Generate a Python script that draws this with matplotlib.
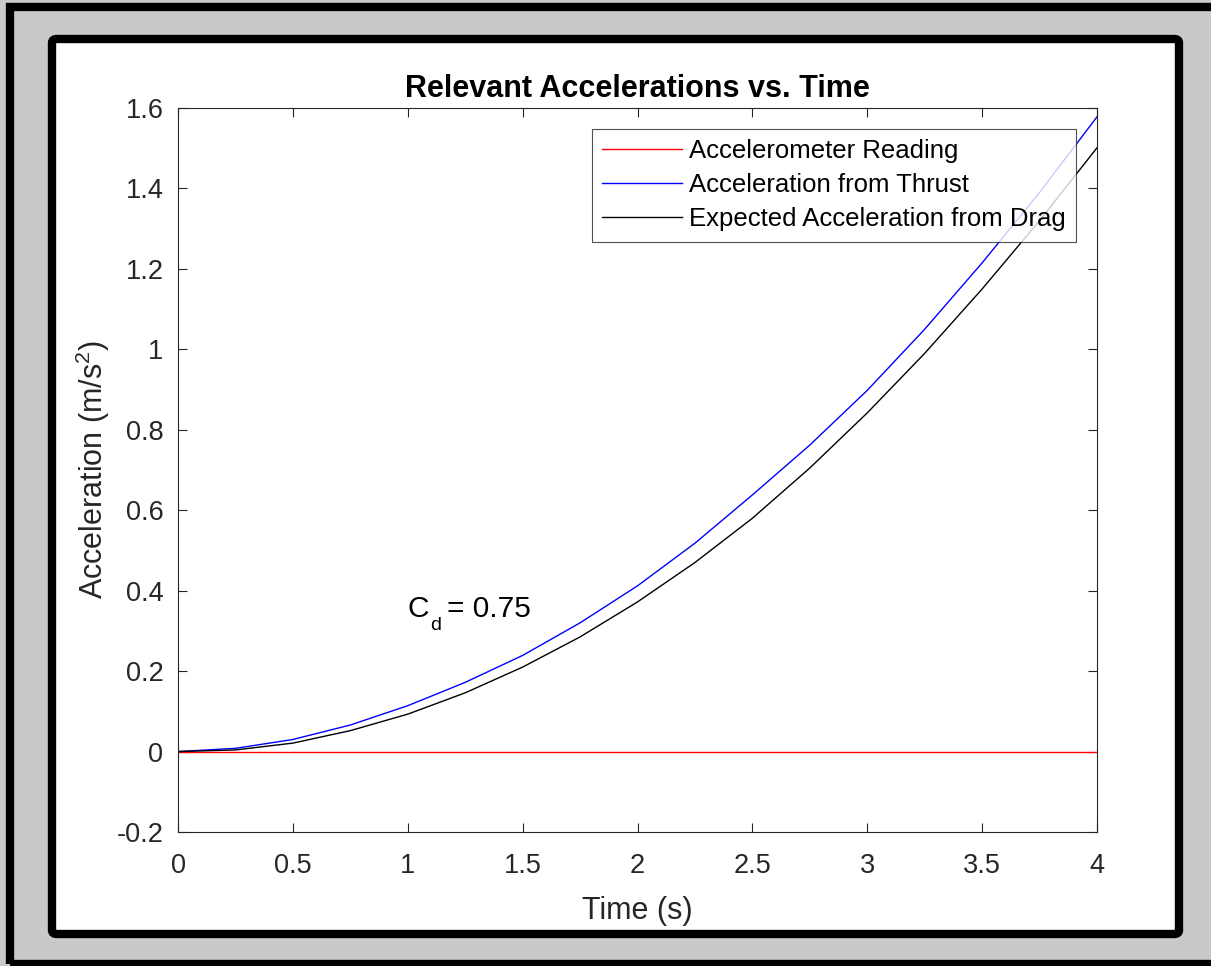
import matplotlib
matplotlib.use("Agg")
import matplotlib.pyplot as plt
from matplotlib.patches import Rectangle, FancyBboxPatch

# data
t = [0, 0.25, 0.5, 0.75, 1, 1.25, 1.5, 1.75, 2, 2.25, 2.5, 2.75, 3, 3.25, 3.5, 3.75, 4]
acc_meter = [0.0] * len(t)
acc_thrust = [0, 0.008, 0.030, 0.066, 0.114, 0.172, 0.239, 0.320, 0.412, 0.518,
              0.638, 0.762, 0.898, 1.050, 1.215, 1.390, 1.578]
acc_drag = [0, 0.004, 0.021, 0.052, 0.093, 0.146, 0.210, 0.285, 0.372, 0.470,
            0.580, 0.705, 0.842, 0.990, 1.150, 1.320, 1.501]
xticks = [0, 0.5, 1, 1.5, 2, 2.5, 3, 3.5, 4]
xtick_labels = ["0", "0.5", "1", "1.5", "2", "2.5", "3", "3.5", "4"]
yticks = [-0.2, 0, 0.2, 0.4, 0.6, 0.8, 1, 1.2, 1.4, 1.6]
ytick_labels = ["-0.2", "0", "0.2", "0.4", "0.6", "0.8", "1", "1.2", "1.4", "1.6"]

plt.rcParams['font.family'] = ['Liberation Sans', 'DejaVu Sans']
plt.rcParams['mathtext.fontset'] = 'custom'
plt.rcParams['mathtext.rm'] = 'Liberation Sans'
plt.rcParams['mathtext.it'] = 'Liberation Sans'

W, H = 1211, 966
fig = plt.figure(figsize=(W / 100, H / 100), dpi=100)
fig.patch.set_facecolor('#c8c9cb')

# outer frame (screenshot border)
fig.patches.append(Rectangle((10 / W, 1 - 964 / H), 1.1, (964 - 7) / H, transform=fig.transFigure,
                             fill=False, edgecolor='black', linewidth=6, zorder=-10))
# white panel with thick black rounded border
fig.patches.append(FancyBboxPatch((52 / W, 1 - 934 / H), (1179 - 52) / W, (934 - 39) / H,
                                  boxstyle="round,pad=0,rounding_size=0.004",
                                  transform=fig.transFigure, facecolor='white',
                                  edgecolor='black', linewidth=6, zorder=-9))

ax = fig.add_axes([178 / W, 1 - 832 / H, (1097 - 178) / W, (832 - 108) / H])
ax.set_zorder(1)
ax.plot(t, acc_meter, color='#ff0000', linewidth=1, label='Accelerometer Reading')
ax.plot(t, acc_thrust, color='#0000ff', linewidth=1, label='Acceleration from Thrust')
ax.plot(t, acc_drag, color='black', linewidth=1, label='Expected Acceleration from Drag')

ax.set_xlim(0, 4)
ax.set_ylim(-0.2, 1.6)
ax.set_xticks(xticks)
ax.set_xticklabels(xtick_labels)
ax.set_yticks(yticks)
ax.set_yticklabels(ytick_labels)
ax.tick_params(direction='in', length=6.5, width=0.8, colors='#262626', labelsize=19.5,
               top=True, right=True)
ax.tick_params(axis='x', pad=15)
ax.tick_params(axis='y', pad=10.5)
for s in ax.spines.values():
    s.set_color('#262626')
    s.set_linewidth(0.8)

ax.set_title('Relevant Accelerations vs. Time', fontsize=22, fontweight='bold', pad=8)
ax.set_xlabel('Time (s)', fontsize=22, color='#262626', labelpad=12)
ax.set_ylabel('Acceleration (m/s$^{2}$)', fontsize=22, color='#262626', labelpad=3)

# C_d annotation, subscript drawn as a separate lowered text
ax.text(0.997, 0.335, 'C', fontsize=21.5, color='black', va='baseline')
ax.annotate('d', xy=(0.997, 0.335), xytext=(16.5, -9.4), textcoords='offset points',
            fontsize=14, color='black', va='baseline')
ax.annotate('= 0.75', xy=(0.997, 0.335), xytext=(28.5, 0), textcoords='offset points',
            fontsize=21.5, color='black', va='baseline')

leg = ax.legend(loc='upper right', fontsize=18.5, frameon=True, fancybox=False,
                edgecolor='#262626', handlelength=3.1, handletextpad=0.3,
                borderaxespad=0.8, labelspacing=0.4, borderpad=0.4)
leg.get_frame().set_linewidth(0.8)

fig.savefig('out.png', dpi=100, facecolor=fig.get_facecolor())
